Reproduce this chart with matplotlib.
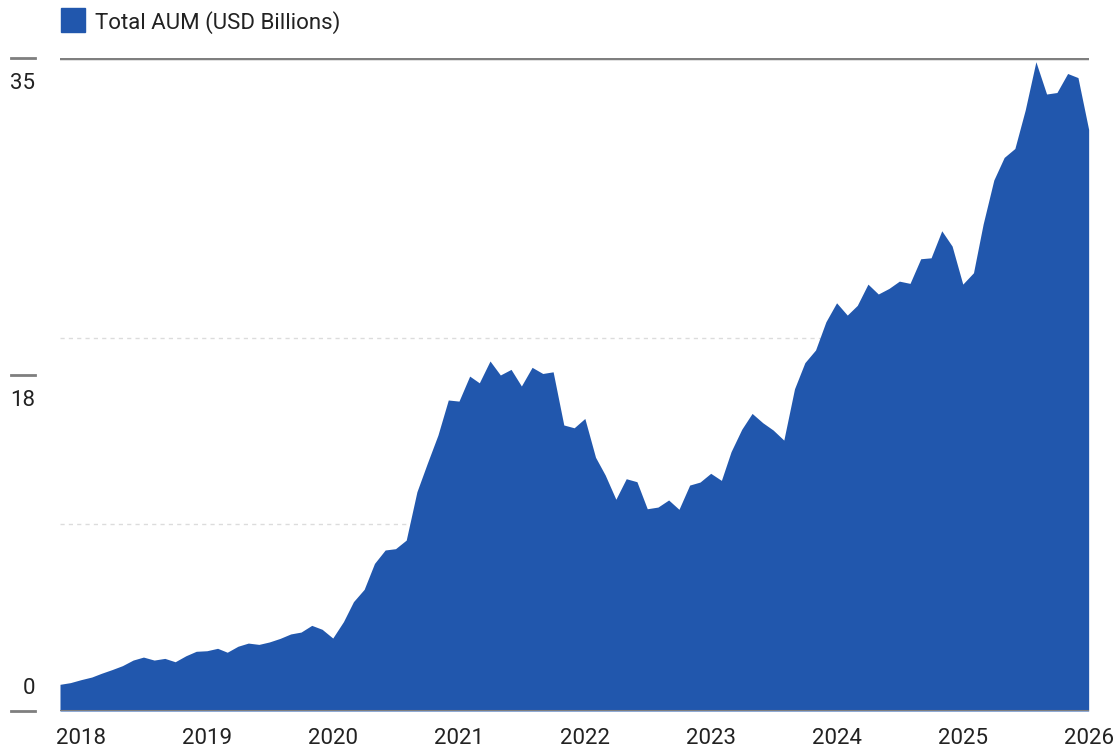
import matplotlib
matplotlib.use('Agg')
import matplotlib.pyplot as plt
import matplotlib.transforms as mtrans
from matplotlib.patches import Rectangle
import pandas as pd

plt.rcParams['font.family'] = ['Roboto', 'DejaVu Sans']

# month-end values, Oct 2017 .. Dec 2025
months = pd.date_range('2017-10-31', '2025-12-31', freq='ME')
aum = [
    1.43, 1.52, 1.68, 1.82, 2.02, 2.22, 2.43, 2.73, 2.89, 2.73,
    2.82, 2.64, 2.96, 3.20, 3.23, 3.36, 3.15, 3.47, 3.64, 3.57,
    3.70, 3.89, 4.13, 4.23, 4.59, 4.38, 3.91, 4.79, 5.86, 6.52,
    7.91, 8.63, 8.70, 9.16, 11.75, 13.27, 14.79, 16.67, 16.61, 17.95,
    17.59, 18.76, 18.01, 18.31, 17.42, 18.42, 18.09, 18.18, 15.33, 15.18,
    15.68, 13.60, 12.65, 11.35, 12.45, 12.29, 10.84, 10.93, 11.31, 10.81,
    12.11, 12.27, 12.74, 12.36, 13.90, 15.10, 15.95, 15.45, 15.06, 14.52,
    17.27, 18.67, 19.35, 20.86, 21.88, 21.22, 21.74, 22.88, 22.35, 22.65,
    23.04, 22.92, 24.24, 24.29, 25.74, 24.92, 22.88, 23.49, 26.10, 28.46,
    29.67, 30.15, 32.21, 34.80, 33.07, 33.15, 34.17, 33.95, 31.17,
]
year_ticks = [2018, 2019, 2020, 2021, 2022, 2023, 2024, 2025, 2026]
y_ticks = [0, 18, 35]
grid_vals = [10, 20]
legend_label = 'Total AUM (USD Billions)'

blue = '#2157ad'
grey = '#7f7f7f'
txt = '#222222'
fs = 16

W, H = 1116, 754
fig = plt.figure(figsize=(W / 100, H / 100), dpi=100)
ax = fig.add_axes((60 / W, 1 - 711 / H, 1029 / W, 653 / H))

ax.fill_between(months, 0, aum, color=blue, lw=0, zorder=2)
for g in grid_vals:
    ax.axhline(g, color='#dcdcdc', lw=1.0, ls=(0, (3, 3)), zorder=1)
ax.axhline(35, color=grey, lw=2.5, zorder=3)
ax.axhline(0, color=grey, lw=1.5, zorder=3)

ax.set_xlim(months[0], pd.Timestamp('2026-01-01'))
ax.set_ylim(0, 35)
for s in ax.spines.values():
    s.set_visible(False)

ax.set_xticks([pd.Timestamp(f'{y}-01-01') for y in year_ticks])
ax.set_xticklabels([str(y) for y in year_ticks])
ax.tick_params(axis='x', length=0, pad=12, labelsize=fs, labelcolor=txt)
ax.set_yticks([])

# y labels: short rule with the number underneath (above for zero)
tr = mtrans.blended_transform_factory(ax.transAxes, ax.transData)
x0, x1 = (11 - 60) / 1029, (35 - 60) / 1029
for v in y_ticks:
    ax.plot([x0, x1], [v, v], transform=tr, color=grey, lw=2, clip_on=False)
    if v == 0:
        ax.annotate(str(v), xy=(x1, v), xycoords=tr, xytext=(0, 9),
                    textcoords='offset points', ha='right', va='bottom',
                    fontsize=fs, color=txt)
    else:
        ax.annotate(str(v), xy=(x1, v), xycoords=tr, xytext=(0, -11),
                    textcoords='offset points', ha='right', va='top',
                    fontsize=fs, color=txt)

# legend
fig.add_artist(Rectangle((61 / W, 1 - 32 / H), 24 / W, 24 / H,
                         transform=fig.transFigure, color=blue))
fig.text(95 / W, 1 - 23 / H, legend_label, ha='left', va='center',
         fontsize=fs, color=txt)

fig.savefig('out.png', dpi=100)
